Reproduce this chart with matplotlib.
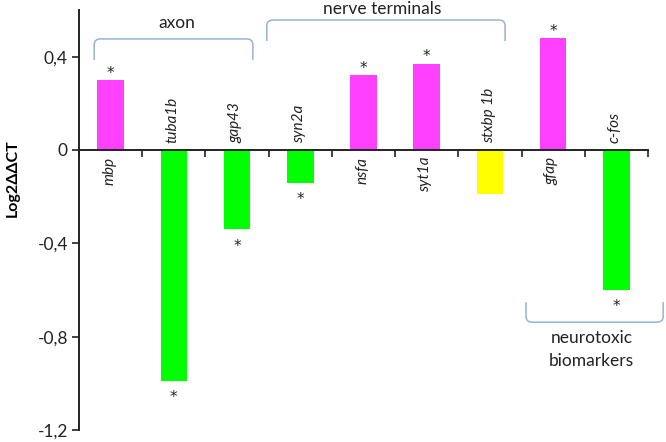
import matplotlib
matplotlib.use("Agg")
import matplotlib.pyplot as plt
from matplotlib.path import Path
from matplotlib.patches import PathPatch

plt.rcParams['font.family'] = ['Lato', 'DejaVu Sans']

genes = ["mbp", "tuba1b", "gap43", "syn2a", "nsfa", "syt1a", "stxbp 1b", "gfap", "c-fos"]
values = [0.30, -0.99, -0.34, -0.14, 0.32, 0.37, -0.19, 0.48, -0.60]
colors = ["#FF40FF", "#00FF00", "#00FF00", "#00FF00", "#FF40FF", "#FF40FF", "#FFFF00", "#FF40FF", "#00FF00"]
significant = [True, True, True, True, True, True, False, True, True]
yticks = [-1.2, -0.8, -0.4, 0, 0.4]
ytick_labels = ["-1,2", "-0,8", "-0,4", "0", "0,4"]

BR = "#95B3D7"
TXT = "#222222"

fig = plt.figure(figsize=(6.66, 4.42), dpi=100)
ax = fig.add_axes([79/666, 12/442, (648-79)/666, (430-10)/442])

x = list(range(len(genes)))
ax.bar(x, values, width=0.42, color=colors, zorder=2)

ax.set_xlim(-0.5, len(genes) - 0.5)
ax.set_ylim(-1.2, 0.6)
ax.set_yticks(yticks)
ax.set_yticklabels(ytick_labels, fontsize=12.5, color=TXT)
ax.set_xticks([i + 0.5 for i in range(-1, len(genes))])
ax.set_xticklabels([])
ax.tick_params(axis='x', direction='out', length=5, width=1.2, color=TXT)
ax.tick_params(axis='y', direction='out', length=5, width=1.2, color=TXT, pad=3)

for s in ['top', 'right']:
    ax.spines[s].set_visible(False)
ax.spines['bottom'].set_position(('data', 0))
ax.spines['bottom'].set_linewidth(1.4)
ax.spines['left'].set_linewidth(1.4)
ax.spines['left'].set_color(TXT)
ax.spines['bottom'].set_color(TXT)

ax.set_ylabel("Log2ΔΔCT", fontsize=11.5, fontweight='bold')
ax.yaxis.set_label_coords(-0.105, 0.6)

for xi, v, g, sig in zip(x, values, genes, significant):
    if v >= 0:
        ax.annotate(g, (xi, 0), xytext=(-1, -5), textcoords='offset points',
                    rotation=90, ha='center', va='top', fontsize=11, style='italic', color=TXT)
        if sig:
            ax.annotate("*", (xi, v), xytext=(0, 5), textcoords='offset points',
                        ha='center', va='center', fontsize=11, color=TXT, family='DejaVu Sans')
    else:
        ax.annotate(g, (xi, 0), xytext=(-1, 5), textcoords='offset points',
                    rotation=90, ha='center', va='bottom', fontsize=11, style='italic', color=TXT)
        if sig:
            ax.annotate("*", (xi, v), xytext=(0, -12), textcoords='offset points',
                        ha='center', va='center', fontsize=11, color=TXT, family='DejaVu Sans')


def bracket(x0, x1, yend, yline, dx=0.1, dy=0.025):
    s = 1 if yline > yend else -1
    verts = [(x0, yend), (x0, yline - s * dy), (x0, yline), (x0 + dx, yline),
             (x1 - dx, yline), (x1, yline), (x1, yline - s * dy), (x1, yend)]
    codes = [Path.MOVETO, Path.LINETO, Path.CURVE3, Path.CURVE3,
             Path.LINETO, Path.CURVE3, Path.CURVE3, Path.LINETO]
    p = PathPatch(Path(verts, codes), fill=False, edgecolor=BR, lw=1.1, clip_on=False, zorder=3)
    ax.add_patch(p)


bracket(-0.26, 2.25, 0.386, 0.476)
ax.text(1.05, 0.545, "axon", ha='center', va='center', fontsize=12.5, color=TXT, clip_on=False)
bracket(2.47, 6.24, 0.467, 0.557)
ax.text(4.29, 0.605, "nerve terminals", ha='center', va='center', fontsize=12.5, color=TXT, clip_on=False)
bracket(6.57, 8.74, -0.652, -0.738)
ax.text(7.61, -0.806, "neurotoxic", ha='center', va='center', fontsize=12.5, color=TXT, clip_on=False)
ax.text(7.61, -0.904, "biomarkers", ha='center', va='center', fontsize=12.5, color=TXT, clip_on=False)

fig.savefig("out.png", dpi=100)
